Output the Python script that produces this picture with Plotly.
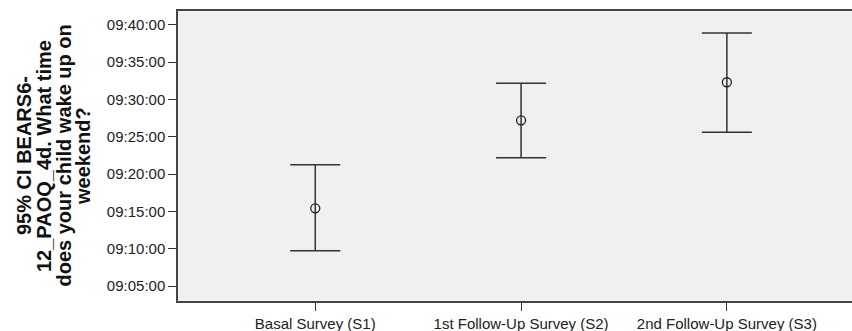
import plotly.graph_objects as go

# Survey waves and 95% CI for weekend wake-up time
categories = ["Basal Survey (S1)", "1st Follow-Up Survey (S2)", "2nd Follow-Up Survey (S3)"]
mean_time = ["09:15:25", "09:27:13", "09:32:19"]
lower_ci = ["09:09:44", "09:22:12", "09:25:37"]
upper_ci = ["09:21:16", "09:32:11", "09:38:56"]
tick_labels = ["09:05:00", "09:10:00", "09:15:00", "09:20:00",
               "09:25:00", "09:30:00", "09:35:00", "09:40:00"]
y_limits = ["09:03:00", "09:41:52"]
title_lines = ["95% CI BEARS6-", "12_PAOQ_4d. What time",
               "does your child wake up on", "weekend?"]


def secs(t):
    h, m, s = (int(p) for p in t.split(":"))
    return h * 3600 + m * 60 + s


x_idx = list(range(len(categories)))
mean_s = [secs(t) for t in mean_time]
err_plus = [secs(u) - m for u, m in zip(upper_ci, mean_s)]
err_minus = [m - secs(l) for l, m in zip(lower_ci, mean_s)]

fig = go.Figure()
fig.add_trace(go.Scatter(
    x=x_idx, y=mean_s, mode="markers",
    marker=dict(symbol="circle-open", size=9, color="#222222",
                line=dict(width=1.3, color="#222222")),
    error_y=dict(type="data", symmetric=False, array=err_plus,
                 arrayminus=err_minus, color="#333333",
                 thickness=1.5, width=25),
    showlegend=False, hoverinfo="skip",
))

font_main = "Liberation Sans, Arial, sans-serif"

fig.update_layout(
    width=852, height=331,
    margin=dict(l=178, r=0, t=11, b=30),
    paper_bgcolor="white", plot_bgcolor="#f0f0f0",
    font=dict(family=font_main, size=15, color="#222222"),
    xaxis=dict(
        range=[-0.667, 2.608], tickmode="array", tickvals=x_idx,
        ticktext=categories, showgrid=False, zeroline=False,
        showline=True, linecolor="#444444", linewidth=1.5, mirror=True,
        ticks="outside", ticklen=8, tickcolor="#333333", tickwidth=1.2,
        tickfont=dict(size=15, color="#222222"),
    ),
    yaxis=dict(
        range=[secs(y_limits[0]), secs(y_limits[1])], tickmode="array",
        tickvals=[secs(t) for t in tick_labels], ticktext=tick_labels,
        showgrid=False, zeroline=False,
        showline=True, linecolor="#444444", linewidth=1.5, mirror=False,
        ticks="outside", ticklen=8, tickcolor="#333333", tickwidth=1.2,
        tickfont=dict(size=15, color="#222222"),
    ),
)

# Multi-line rotated axis title, one line per annotation for tight spacing
plot_w = 852 - 178
line_centers_px = [24, 44, 63.5, 83]
for txt, cx in zip(title_lines, line_centers_px):
    fig.add_annotation(
        text=f"<b>{txt}</b>", textangle=-90, showarrow=False,
        xref="paper", yref="paper",
        x=(cx - 178) / plot_w, y=0.5, xanchor="center", yanchor="middle",
        font=dict(family=font_main, size=20, color="#111111"),
    )

fig.write_html("out.html")
